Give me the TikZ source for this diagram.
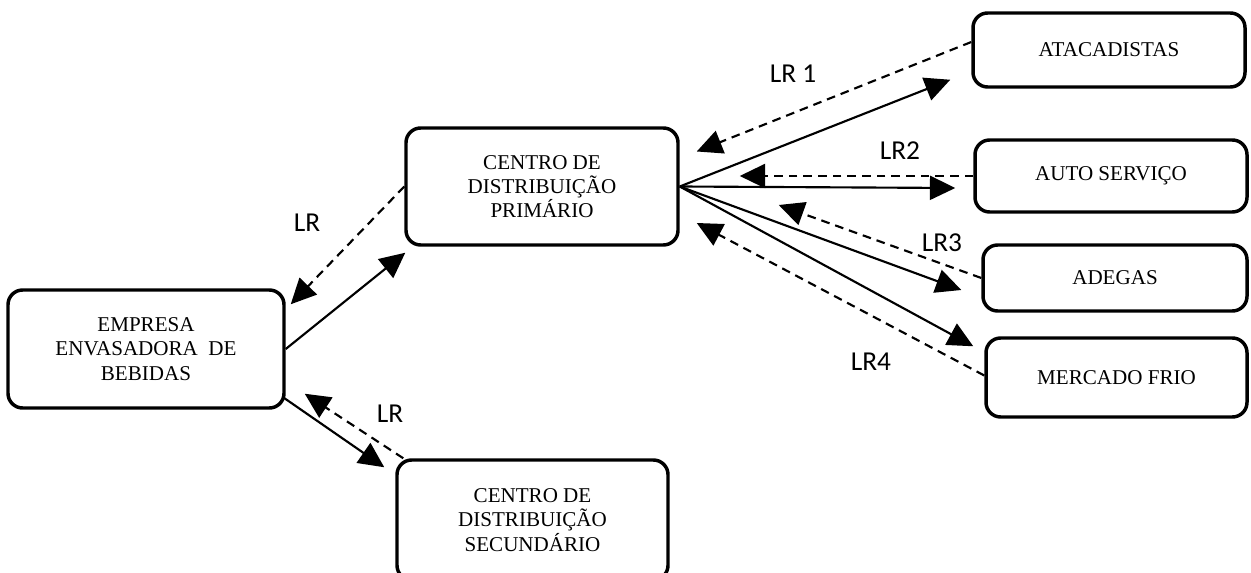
\documentclass[tikz,border=0pt]{standalone}
\usepackage{fontspec}
\setmainfont{Liberation Serif}
\newfontfamily\lblfont{Carlito}
\usetikzlibrary{arrows.meta,calc}
\begin{document}
\begin{tikzpicture}[x=0.75pt,y=-0.75pt,
  box/.style={draw,line width=2.6pt,rounded corners=11pt,align=center,inner sep=0pt,font=\fontsize{15.8}{18.2}\selectfont},
  flow/.style={line width=1.6pt,-{Triangle[length=19pt,width=18pt]}},
  ret/.style={flow,dash pattern=on 6.5pt off 4.5pt},
  lbl/.style={font=\lblfont\fontsize{20.5}{24}\selectfont,inner sep=0pt}]
\useasboundingbox (0,0) rectangle (1251,573);

\node[box,minimum width=207pt,minimum height=88.5pt] (emp) at (146,349) {EMPRESA\\ENVASADORA\ \ DE\\BEBIDAS};
\node[box,minimum width=204pt,minimum height=87.75pt] (prim) at (542,186.5) {CENTRO DE\\DISTRIBUIÇÃO\\PRIMÁRIO};
\node[box,minimum width=203.25pt,minimum height=90pt] (sec) at (532.5,520) {CENTRO DE\\DISTRIBUIÇÃO\\SECUNDÁRIO};
\node[box,minimum width=204pt,minimum height=55.5pt] (atac) at (1109,50) {ATACADISTAS};
\node[box,minimum width=204pt,minimum height=54pt] (auto) at (1111,176) {AUTO SERVIÇO};
\node[box,minimum width=198pt,minimum height=49.5pt] (adeg) at (1115,278) {ADEGAS};
\node[box,minimum width=195.75pt,minimum height=59.25pt] (merc) at (1116.5,377.5) {MERCADO FRIO};

% solid flows
\draw[flow] (emp.east) -- ($(prim.south west)+(1,6)$);
\draw[flow] ($(emp.south east)+(-2,-12)$) -- ($(sec.north west)+(-11,9)$);
\draw[flow] (prim.east) -- ($(atac.south west)+(-21,-9)$);
\draw[flow] (prim.east) -- ($(auto.west)+(-18,12)$);
\draw[flow] (prim.east) -- ($(adeg.west)+(-20,12)$);
\draw[flow] (prim.east) -- ($(merc.north west)+(-11,10)$);

% dashed returns
\draw[ret] ($(atac.west)+(0,-8)$) -- ($(prim.east)+(17,-35)$);
\draw[ret] (auto.west) -- ($(prim.east)+(60,-10.5)$);
\draw[ret] (adeg.west) -- ($(prim.east)+(99,18.5)$);
\draw[ret] ($(merc.west)+(0,-2)$) -- ($(prim.east)+(17,36.5)$);
\draw[ret] (prim.west) -- ($(emp.north east)+(5,16)$);
\draw[ret] ($(sec.north west)+(8,0)$) -- ($(emp.south east)+(19,-16)$);

% labels
\node[lbl] (l1) at (793,74) {LR 1};
\node[lbl] (l2) at (900,151) {LR2};
\node[lbl] (l3) at (942,243) {LR3};
\node[lbl] (l4) at (871,362) {LR4};
\node[lbl] (la) at (307,223) {LR};
\node[lbl] (lb) at (390,414) {LR};
\end{tikzpicture}
\end{document}
